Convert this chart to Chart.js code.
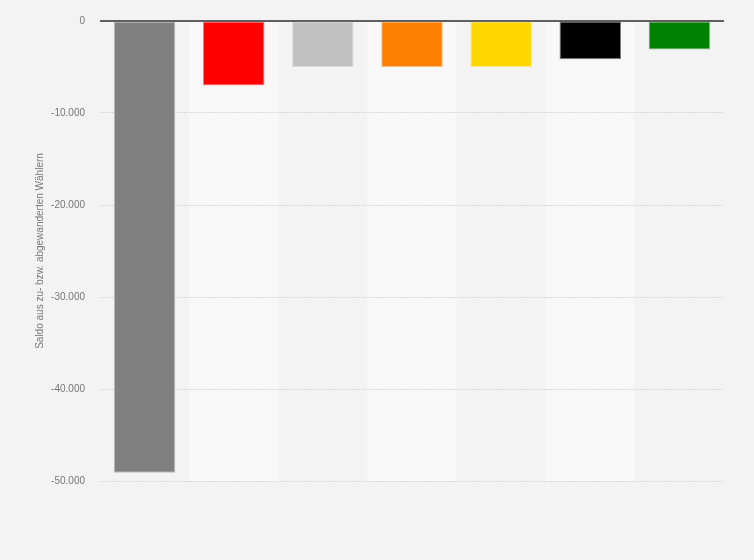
<!DOCTYPE html>
<html><head><meta charset="utf-8">
<script src="https://cdn.jsdelivr.net/npm/chart.js@4/dist/chart.umd.min.js"></script>
<style>html,body{margin:0;padding:0;background:#f3f3f3;overflow:hidden}canvas{display:block}</style>
</head><body>
<canvas id="c" width="754" height="560"></canvas>
<script>
const categories = ['Nichtwähler', 'SPD', 'Andere', 'Piraten', 'FDP', 'CDU', 'Grüne'];
const values = [-49100, -7000, -5000, -5000, -5000, -4150, -3100];
const barColors = ['#808080', '#ff0000', '#c0c0c0', '#ff8000', '#ffd700', '#000000', '#008000'];
const yTicks = [0, -10000, -20000, -30000, -40000, -50000];
const yTitle = 'Saldo aus zu- bzw. abgewanderten Wählern';

function blend(hex, bg, t) {
  const a = [1,3,5].map(i => parseInt(hex.substr(i,2),16));
  const b = [1,3,5].map(i => parseInt(bg.substr(i,2),16));
  return 'rgb(' + a.map((v,i) => Math.round(v*(1-t)+b[i]*t)).join(',') + ')';
}
function fmt(v) {
  const s = Math.abs(v).toString().replace(/\B(?=(\d{3})+(?!\d))/g, '.');
  return (v < 0 ? '-' : '') + s;
}

const stripes = {
  id: 'stripes',
  beforeDraw(chart) {
    const {ctx, chartArea: a, scales: {x}} = chart;
    ctx.save();
    ctx.fillStyle = '#f3f3f3';
    ctx.fillRect(0, 0, chart.width, chart.height);
    const w = (a.right - a.left) / categories.length;
    categories.forEach((c, i) => {
      const cx = x.getPixelForValue(i);
      ctx.fillStyle = i % 2 === 0 ? '#f3f3f3' : '#f8f8f8';
      ctx.fillRect(cx - w / 2, a.top, w, a.bottom - a.top);
    });
    ctx.restore();
  },
  afterDatasetsDraw(chart) {
    const {ctx, chartArea: a, scales: {y}} = chart;
    const y0 = y.getPixelForValue(0);
    ctx.save();
    ctx.strokeStyle = '#606060';
    ctx.lineWidth = 2;
    ctx.beginPath();
    ctx.moveTo(a.left, y0);
    ctx.lineTo(a.right, y0);
    ctx.stroke();
    ctx.restore();
  }
};

new Chart(document.getElementById('c'), {
  type: 'bar',
  data: {
    labels: categories,
    datasets: [{
      data: values,
      backgroundColor: barColors,
      borderColor: barColors.map(c => blend(c, '#f6f6f6', 0.5)),
      borderWidth: 1,
      borderSkipped: false,
      categoryPercentage: 1,
      barPercentage: 0.69
    }]
  },
  options: {
    responsive: false,
    animation: false,
    devicePixelRatio: 1,
    layout: {padding: {left: 0, top: 20, right: 30, bottom: 79}},
    plugins: {legend: {display: false}, tooltip: {enabled: false}},
    scales: {
      x: {display: false},
      y: {
        min: -50000, max: 0,
        afterFit(s) { s.width = 100; },
        afterBuildTicks(s) { s.ticks = yTicks.map(v => ({value: v})); },
        ticks: {
          padding: 15,
          color: '#777',
          font: {family: 'Liberation Sans, Arial, sans-serif', size: 10},
          callback: v => fmt(v)
        },
        grid: {color: '#d9d9d9', lineWidth: 1, drawTicks: false},
        border: {display: false, dash: [2, 1]},
        title: {
          display: true,
          text: yTitle,
          color: '#777',
          font: {family: 'Liberation Sans, Arial, sans-serif', size: 10},
          padding: {top: 34, bottom: 0}
        }
      }
    }
  },
  plugins: [stripes]
});
</script>
</body></html>
